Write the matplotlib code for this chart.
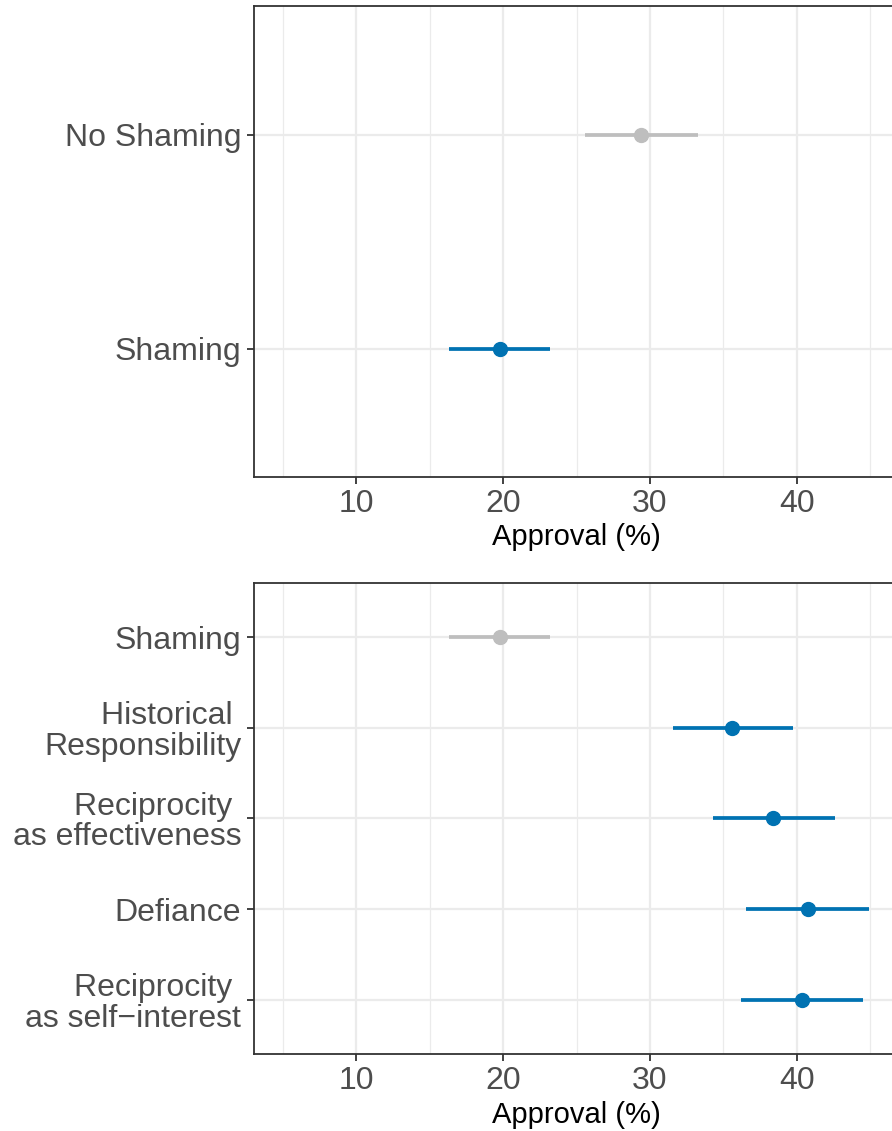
import matplotlib
matplotlib.use("Agg")
import matplotlib.pyplot as plt
from matplotlib.ticker import MultipleLocator

plt.rcParams['font.family'] = ['Liberation Sans', 'DejaVu Sans']

# top panel: shaming vs no shaming
top_labels = ["No Shaming", "Shaming"]
top_est = [29.4, 19.75]
top_lo = [25.55, 16.3]
top_hi = [33.3, 23.2]
top_colors = ["#BEBEBE", "#0072B2"]

# bottom panel: justifications
bot_labels = ["Shaming", "Historical \nResponsibility", "Reciprocity \nas effectiveness",
              "Defiance", "Reciprocity \nas self\u2212interest"]
bot_est = [19.75, 35.6, 38.4, 40.75, 40.35]
bot_lo = [16.3, 31.55, 34.3, 36.55, 36.2]
bot_hi = [23.2, 39.75, 42.6, 44.95, 44.5]
bot_colors = ["#BEBEBE", "#0072B2", "#0072B2", "#0072B2", "#0072B2"]

DARK = "#333333"
GRID = "#EBEBEB"
TXT = "#4D4D4D"


def draw_panel(ax, labels, est, lo, hi, colors):
    n = len(labels)
    pos = list(range(n))
    ax.set_xlim(3, 47)
    ax.set_ylim(n - 1 + 0.6, -0.6)
    ax.xaxis.set_major_locator(MultipleLocator(10))
    ax.xaxis.set_minor_locator(MultipleLocator(5))
    ax.set_yticks(pos)
    ax.set_yticklabels(labels, linespacing=1.02, multialignment="right")
    ax.grid(which="major", color=GRID, linewidth=1.6, zorder=0)
    ax.grid(which="minor", axis="x", color=GRID, linewidth=0.9, zorder=0)
    ax.set_axisbelow(True)
    for i in range(n):
        ax.hlines(pos[i], lo[i], hi[i], color=colors[i], linewidth=2.7, zorder=3)
        ax.plot(est[i], pos[i], "o", color=colors[i], markersize=10, zorder=4)
    for s in ax.spines.values():
        s.set_color(DARK)
        s.set_linewidth(1.3)
    ax.tick_params(which="major", colors=DARK, length=5, width=1.3, labelcolor=TXT,
                   labelsize=23, pad=4)
    ax.tick_params(which="minor", length=0)
    ax.set_xlabel("Approval (%)", fontsize=21, color="black", labelpad=3)


fig = plt.figure(figsize=(8.92, 11.31), dpi=100)
ax1 = fig.add_axes([0.2844, 0.5784, 1.0085 - 0.2844, 0.9943 - 0.5784])
ax2 = fig.add_axes([0.2844, 0.0681, 1.0085 - 0.2844, 0.4846 - 0.0681])

draw_panel(ax1, top_labels, top_est, top_lo, top_hi, top_colors)
draw_panel(ax2, bot_labels, bot_est, bot_lo, bot_hi, bot_colors)

fig.savefig("out.png", dpi=100)
